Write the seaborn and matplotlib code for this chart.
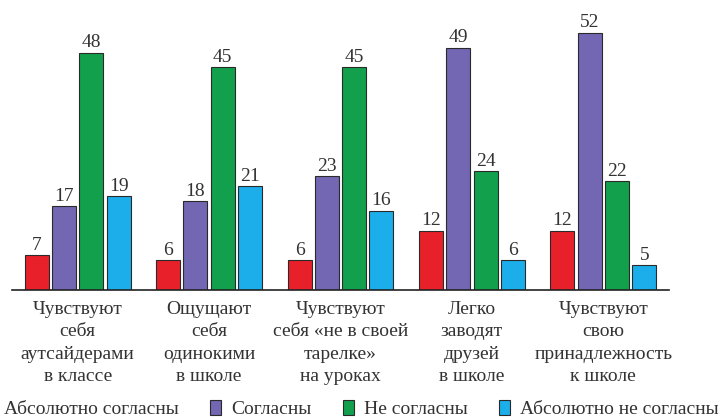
import pandas as pd
import matplotlib.pyplot as plt
import seaborn as sns
from matplotlib.patches import Patch

# Data
categories = [
    "Чувствуют\nсебя\nаутсайдерами\nв классе",
    "Ощущают\nсебя\nодинокими\nв школе",
    "Чувствуют\nсебя «не в своей\nтарелке»\nна уроках",
    "Легко\nзаводят\nдрузей\nв школе",
    "Чувствуют\nсвою\nпринадлежность\nк школе",
]
series = ["Абсолютно согласны", "Согласны", "Не согласны", "Абсолютно не согласны"]
abs_agree = [7, 6, 6, 12, 12]
agree = [17, 18, 23, 49, 52]
disagree = [48, 45, 45, 24, 22]
abs_disagree = [19, 21, 16, 6, 5]
colors = ["#E8202A", "#7366B2", "#12A04D", "#1BAEEB"]

# Long format table for seaborn
rows = []
for name, vals in zip(series, [abs_agree, agree, disagree, abs_disagree]):
    for cat, v in zip(categories, vals):
        rows.append({"category": cat, "group": name, "value": v})
df = pd.DataFrame(rows)

sns.set_style("white")
plt.rcParams["font.family"] = ["Liberation Serif", "DejaVu Serif"]
text_color = "#333333"

fig = plt.figure(figsize=(7.21, 4.2), dpi=100)
ax = fig.add_axes([12 / 721, 130 / 420, 657 / 721, 277 / 420])

sns.barplot(data=df, x="category", y="value", hue="group", hue_order=series,
            palette=colors, saturation=1, width=0.83, gap=0.12,
            edgecolor="#2a2a2a", linewidth=0.8, ax=ax, legend=False)

for cont in ax.containers:
    ax.bar_label(cont, fmt="%d", padding=1, fontsize=14, color=text_color)

ax.set_xlim(-0.5, 4.5)
ax.set_ylim(0, 56)
ax.set_xlabel("")
ax.set_ylabel("")
ax.set_yticks([])
for s in ["top", "right", "left"]:
    ax.spines[s].set_visible(False)
ax.spines["bottom"].set_color("#222222")
ax.spines["bottom"].set_linewidth(1.2)

ax.set_xticks(range(5))
ax.set_xticklabels(categories, fontsize=14, color=text_color, linespacing=1.4)
ax.set_xticks([-0.5, 0.5, 1.5, 2.5, 3.5, 4.5], minor=True)
ax.tick_params(axis="x", which="major", length=0, pad=8)
ax.tick_params(axis="x", which="minor", length=10, width=1.2, color="#222222",
               direction="out")

handles = [Patch(facecolor=c, edgecolor="#2a2a2a", linewidth=0.8) for c in colors]
fig.legend(handles, series, loc="center right", bbox_to_anchor=(0.997, 1 - 409 / 420),
           ncol=4, frameon=False, fontsize=14, handlelength=0.6, handleheight=0.8,
           handletextpad=0.5, columnspacing=1.6, labelcolor=text_color,
           borderaxespad=0, borderpad=0)

fig.savefig("out.png", dpi=100)
